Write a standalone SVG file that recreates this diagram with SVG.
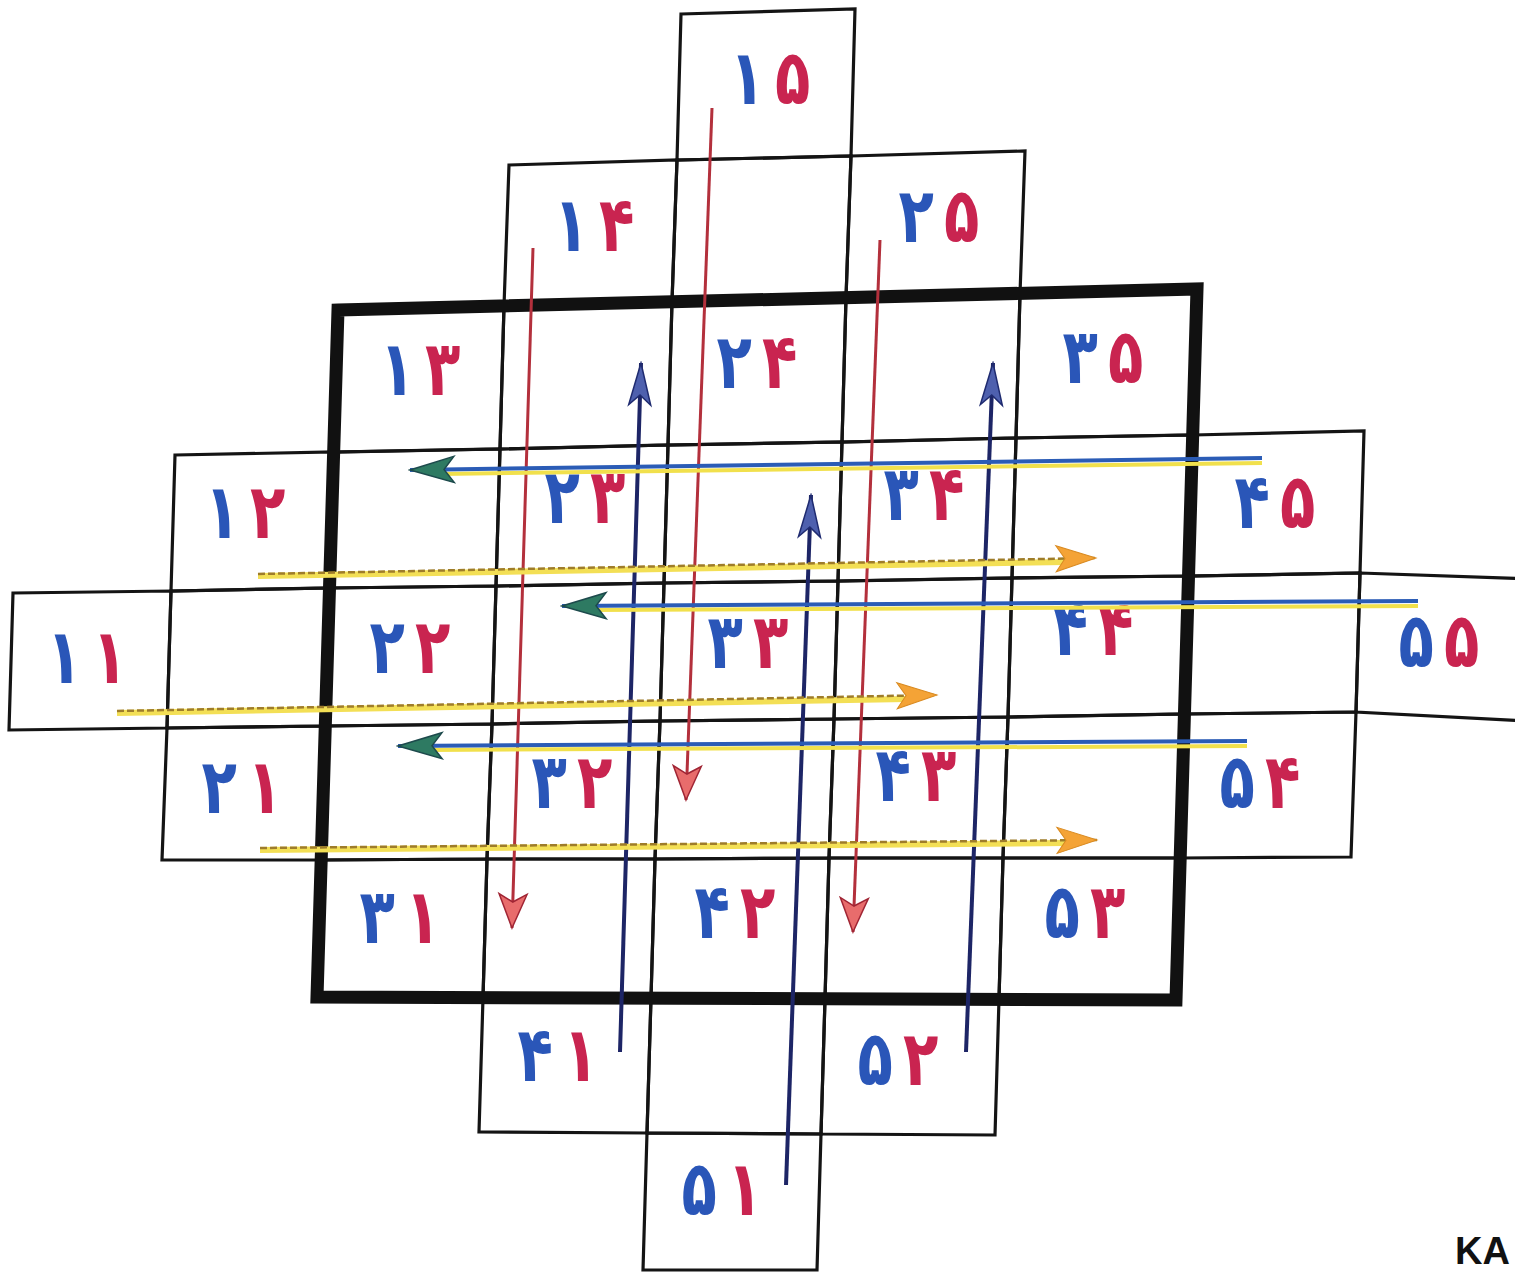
<svg xmlns="http://www.w3.org/2000/svg" width="1515" height="1275" viewBox="0 0 1515 1275">
<style>
.cell{fill:none;stroke:#141414;stroke-width:3.2;stroke-linejoin:miter}
.lbl{font-family:"DejaVu Sans","Noto Sans",sans-serif;font-weight:bold;font-size:58px;text-anchor:middle}
.b{fill:#2a56b8}
.r{fill:#c92450}
.red{stroke:#b3303c;stroke-width:3;fill:none}
.navy{stroke:#1d2566;stroke-width:4;fill:none}
.blu{stroke:#2b5cb6;stroke-width:4;fill:none}
.yel{stroke:#f1e04c;stroke-width:4;fill:none}
.yel2{stroke:#f3df55;stroke-width:6;fill:none}
.gold{stroke:#9e7c2a;stroke-width:2.5;stroke-dasharray:7 3;fill:none}
</style>
<defs>
<marker id="mRed" viewBox="-38 -16 40 32" refX="0" refY="0" markerWidth="40" markerHeight="32" markerUnits="userSpaceOnUse" orient="auto">
<path d="M0,0 L-34,-14 L-26,0 L-34,14 Z" fill="#e86c6c" stroke="#a02534" stroke-width="1.5"/>
</marker>
<marker id="mNavy" viewBox="-46 -14 48 28" refX="0" refY="0" markerWidth="48" markerHeight="28" markerUnits="userSpaceOnUse" orient="auto">
<path d="M0,0 L-42,-11 L-32,0 L-42,11 Z" fill="#4e60ae" stroke="#1f2b70" stroke-width="1.5"/>
</marker>
<marker id="mGreen" viewBox="-48 -16 50 32" refX="0" refY="0" markerWidth="50" markerHeight="32" markerUnits="userSpaceOnUse" orient="auto">
<path d="M0,0 L-44,-13 L-34,0 L-44,13 Z" fill="#2e7a62" stroke="#1d4a4c" stroke-width="1.5"/>
</marker>
<marker id="mOrange" viewBox="-44 -16 46 32" refX="0" refY="0" markerWidth="46" markerHeight="32" markerUnits="userSpaceOnUse" orient="auto">
<path d="M0,0 L-40,-13 L-31,0 L-40,13 Z" fill="#f4a336" stroke="#d98a20" stroke-width="1"/>
</marker>
</defs>
<rect x="0" y="0" width="1515" height="1275" fill="#ffffff"/>

<g id="cells">
<g id="n15"><polygon class="cell" points="681,14 855,9 851,156 677,160"/><text class="lbl" transform="translate(770,104) scale(1,1.32)"><tspan class="b">۱</tspan><tspan class="r" dx="10">۵</tspan></text></g>

<g id="n14"><polygon class="cell" points="509,165 677,160 672,302 504,306"/><text class="lbl" transform="translate(594,251) scale(1,1.32)"><tspan class="b">۱</tspan><tspan class="r" dx="10">۴</tspan></text></g>
<g id="e41"><polygon class="cell" points="677,160 851,156 846,298 672,302"/></g>
<g id="n25"><polygon class="cell" points="851,156 1025,151 1020,294 846,298"/><text class="lbl" transform="translate(939,242) scale(1,1.32)"><tspan class="b">۲</tspan><tspan class="r" dx="10">۵</tspan></text></g>

<g id="n13"><polygon class="cell" points="338,310 504,306 500,449 334,452"/><text class="lbl" transform="translate(420,395) scale(1,1.32)"><tspan class="b">۱</tspan><tspan class="r" dx="10">۳</tspan></text></g>
<g id="e32"><polygon class="cell" points="504,306 672,302 668,445 500,449"/></g>
<g id="n24"><polygon class="cell" points="672,302 846,298 842,442 668,445"/><text class="lbl" transform="translate(757,388) scale(1,1.32)"><tspan class="b">۲</tspan><tspan class="r" dx="10">۴</tspan></text></g>
<g id="e52"><polygon class="cell" points="846,298 1020,294 1016,438 842,442"/></g>
<g id="n35"><polygon class="cell" points="1020,294 1197,289 1193,435 1016,438"/><text class="lbl" transform="translate(1103,383) scale(1,1.32)"><tspan class="b">۳</tspan><tspan class="r" dx="10">۵</tspan></text></g>

<g id="n12"><polygon class="cell" points="175,455 334,452 330,588 171,591"/><text class="lbl" transform="translate(245,538) scale(1,1.32)"><tspan class="b">۱</tspan><tspan class="r" dx="10">۲</tspan></text></g>
<g id="e23"><polygon class="cell" points="334,452 500,449 496,586 330,588"/></g>
<g id="n23"><polygon class="cell" points="500,449 668,445 664,583 496,586"/><text class="lbl" transform="translate(585,523) scale(1,1.32)"><tspan class="b">۲</tspan><tspan class="r" dx="10">۳</tspan></text></g>
<g id="e43"><polygon class="cell" points="668,445 842,442 838,581 664,583"/></g>
<g id="n34"><polygon class="cell" points="842,442 1016,438 1012,578 838,581"/><text class="lbl" transform="translate(924,520) scale(1,1.32)"><tspan class="b">۳</tspan><tspan class="r" dx="10">۴</tspan></text></g>
<g id="e63"><polygon class="cell" points="1016,438 1193,435 1189,576 1012,578"/></g>
<g id="n45"><polygon class="cell" points="1193,435 1364,431 1360,573 1189,576"/><text class="lbl" transform="translate(1275,528) scale(1,1.32)"><tspan class="b">۴</tspan><tspan class="r" dx="10">۵</tspan></text></g>

<g id="n11"><polygon class="cell" points="13,593 171,591 167,728 9,730"/><text class="lbl" transform="translate(87,683) scale(1,1.32)"><tspan class="b">۱</tspan><tspan class="r" dx="10">۱</tspan></text></g>
<g id="e14"><polygon class="cell" points="171,591 330,588 326,726 167,728"/></g>
<g id="n22"><polygon class="cell" points="330,588 496,586 492,724 326,726"/><text class="lbl" transform="translate(410,673) scale(1,1.32)"><tspan class="b">۲</tspan><tspan class="r" dx="10">۲</tspan></text></g>
<g id="e34"><polygon class="cell" points="496,586 664,583 660,721 492,724"/></g>
<g id="n33"><polygon class="cell" points="664,583 838,581 834,719 660,721"/><text class="lbl" transform="translate(748,668) scale(1,1.32)"><tspan class="b">۳</tspan><tspan class="r" dx="10">۳</tspan></text></g>
<g id="e54"><polygon class="cell" points="838,581 1012,578 1008,717 834,719"/></g>
<g id="n44"><polygon class="cell" points="1012,578 1189,576 1185,714 1008,717"/><text class="lbl" transform="translate(1093,655) scale(1,1.32)"><tspan class="b">۴</tspan><tspan class="r" dx="10">۴</tspan></text></g>
<g id="e74"><polygon class="cell" points="1189,576 1360,573 1356,712 1185,714"/></g>
<g id="n55"><polygon class="cell" points="1360,573 1532,579 1528,721 1356,712"/><text class="lbl" transform="translate(1439,667) scale(1,1.32)"><tspan class="b">۵</tspan><tspan class="r" dx="10">۵</tspan></text></g>

<g id="n21"><polygon class="cell" points="167,728 326,726 321,860 162,860"/><text class="lbl" transform="translate(242,813) scale(1,1.32)"><tspan class="b">۲</tspan><tspan class="r" dx="10">۱</tspan></text></g>
<g id="e25"><polygon class="cell" points="326,726 492,724 487,859 321,860"/></g>
<g id="n32"><polygon class="cell" points="492,724 660,721 655,859 487,859"/><text class="lbl" transform="translate(572,808) scale(1,1.32)"><tspan class="b">۳</tspan><tspan class="r" dx="10">۲</tspan></text></g>
<g id="e45"><polygon class="cell" points="660,721 834,719 829,858 655,859"/></g>
<g id="n43"><polygon class="cell" points="834,719 1008,717 1003,858 829,858"/><text class="lbl" transform="translate(916,801) scale(1,1.32)"><tspan class="b">۴</tspan><tspan class="r" dx="10">۳</tspan></text></g>
<g id="e65"><polygon class="cell" points="1008,717 1185,714 1180,858 1003,858"/></g>
<g id="n54"><polygon class="cell" points="1185,714 1356,712 1351,857 1180,858"/><text class="lbl" transform="translate(1260,808) scale(1,1.32)"><tspan class="b">۵</tspan><tspan class="r" dx="10">۴</tspan></text></g>

<g id="n31"><polygon class="cell" points="321,860 487,859 483,998 317,997"/><text class="lbl" transform="translate(400,943) scale(1,1.32)"><tspan class="b">۳</tspan><tspan class="r" dx="10">۱</tspan></text></g>
<g id="e36"><polygon class="cell" points="487,859 655,859 651,998 483,998"/></g>
<g id="n42"><polygon class="cell" points="655,859 829,858 825,999 651,998"/><text class="lbl" transform="translate(735,938) scale(1,1.32)"><tspan class="b">۴</tspan><tspan class="r" dx="10">۲</tspan></text></g>
<g id="e56"><polygon class="cell" points="829,858 1003,858 999,999 825,999"/></g>
<g id="n53"><polygon class="cell" points="1003,858 1180,858 1176,1000 999,999"/><text class="lbl" transform="translate(1085,938) scale(1,1.32)"><tspan class="b">۵</tspan><tspan class="r" dx="10">۳</tspan></text></g>

<g id="n41"><polygon class="cell" points="483,998 651,998 647,1133 479,1132"/><text class="lbl" transform="translate(558,1081) scale(1,1.32)"><tspan class="b">۴</tspan><tspan class="r" dx="10">۱</tspan></text></g>
<g id="e47"><polygon class="cell" points="651,998 825,999 821,1134 647,1133"/></g>
<g id="n52"><polygon class="cell" points="825,999 999,999 995,1135 821,1134"/><text class="lbl" transform="translate(898,1085) scale(1,1.32)"><tspan class="b">۵</tspan><tspan class="r" dx="10">۲</tspan></text></g>

<g id="n51"><polygon class="cell" points="647,1133 821,1134 817,1270 643,1270"/><text class="lbl" transform="translate(722,1215) scale(1,1.32)"><tspan class="b">۵</tspan><tspan class="r" dx="10">۱</tspan></text></g>
</g>

<g id="frame"><polygon points="338,310 1197,289 1176,1000 317,997" fill="none" stroke="#111" stroke-width="13" stroke-linejoin="miter"/></g>

<g id="connectors">
<line class="red" x1="712" y1="108" x2="686" y2="800" marker-end="url(#mRed)"/>
<line class="red" x1="533" y1="248" x2="512" y2="928" marker-end="url(#mRed)"/>
<line class="red" x1="880" y1="240" x2="853" y2="932" marker-end="url(#mRed)"/>

<line class="navy" x1="620" y1="1052" x2="641" y2="363" marker-end="url(#mNavy)"/>
<line class="navy" x1="786" y1="1185" x2="811" y2="495" marker-end="url(#mNavy)"/>
<line class="navy" x1="966" y1="1052" x2="993" y2="363" marker-end="url(#mNavy)"/>

<line class="yel" x1="1262" y1="463" x2="440" y2="474"/>
<line class="blu" x1="1262" y1="458" x2="410" y2="470" marker-end="url(#mGreen)"/>
<line class="yel" x1="1418" y1="606" x2="592" y2="610"/>
<line class="blu" x1="1418" y1="601" x2="562" y2="606" marker-end="url(#mGreen)"/>
<line class="yel" x1="1247" y1="746" x2="428" y2="750"/>
<line class="blu" x1="1247" y1="741" x2="398" y2="746" marker-end="url(#mGreen)"/>

<line class="yel2" x1="258" y1="576" x2="1066" y2="562"/>
<line class="gold" x1="258" y1="574" x2="1096" y2="558" marker-end="url(#mOrange)"/>
<line class="yel2" x1="117" y1="713" x2="907" y2="699"/>
<line class="gold" x1="117" y1="711" x2="937" y2="695" marker-end="url(#mOrange)"/>
<line class="yel2" x1="260" y1="850" x2="1067" y2="843"/>
<line class="gold" x1="260" y1="848" x2="1097" y2="840" marker-end="url(#mOrange)"/>
</g>

<text x="1510" y="1264" text-anchor="end" font-family="Liberation Sans, Arial, sans-serif" font-weight="bold" font-size="38" fill="#111">KA</text>
</svg>
